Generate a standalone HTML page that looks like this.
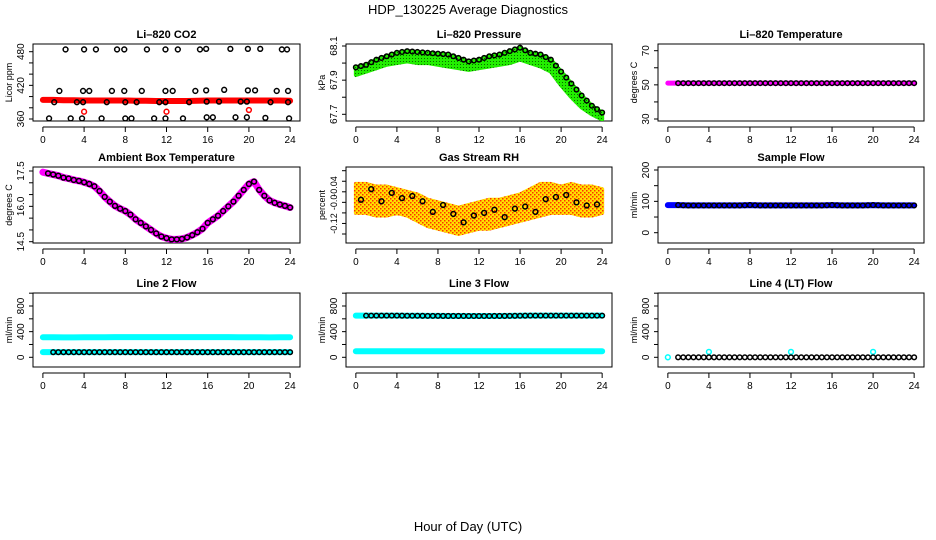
<!DOCTYPE html>
<html><head><meta charset="utf-8"><style>
html,body{margin:0;padding:0;background:#fff}
svg{display:block;font-family:"Liberation Sans",Arial,sans-serif}
</style></head><body>
<svg id="chart" width="936" height="540" viewBox="0 0 936 540" xmlns="http://www.w3.org/2000/svg">
<defs>
<pattern id="rhpat" width="4" height="4" patternUnits="userSpaceOnUse"><rect width="4" height="4" fill="#ffe000"/><rect x="0" y="0" width="1.5" height="1.5" fill="#ff3000"/><rect x="2" y="2" width="1.5" height="1.5" fill="#ff3000"/></pattern>
<pattern id="grpat" width="3" height="3" patternUnits="userSpaceOnUse"><rect width="3" height="3" fill="#22ee00"/><rect x="1" y="1" width="1" height="1" fill="#0a6a00"/></pattern>
</defs>
<text x="468" y="14" font-size="13" text-anchor="middle">HDP_130225  Average Diagnostics</text>
<text x="468" y="531" font-size="13" text-anchor="middle">Hour of Day (UTC)</text>
</svg>
<script>
// ---------- data ----------
const xTicks = [0,4,8,12,16,20,24];
const hours = [0,1,2,3,4,5,6,7,8,9,10,11,12,13,14,15,16,17,18,19,20,21,22,23,24];
const halfHours = [0,0.5,1,1.5,2,2.5,3,3.5,4,4.5,5,5.5,6,6.5,7,7.5,8,8.5,9,9.5,10,10.5,11,11.5,12,12.5,13,13.5,14,14.5,15,15.5,16,16.5,17,17.5,18,18.5,19,19.5,20,20.5,21,21.5,22,22.5,23,23.5,24];

const co2Band = [394,394,393.5,393.5,393,393,393,393,393,392.5,392.5,392,392,392,392,392.5,393,393,393,393,393,393,393,393,392.5];
const co2TopHours = [2.2,4.0,5.15,7.2,7.9,10.1,11.9,13.1,15.25,15.85,18.2,19.9,21.1,23.2,23.7];
const co2TopVals = [484,484,484,484,484,484,484,484,484,485,485,485,485,484,484];
const co2MidHours = [1.6,3.9,4.5,6.7,7.9,9.6,11.9,12.6,14.8,15.85,17.6,19.9,20.6,22.7,23.8];
const co2MidVals = [410,410,410,410,410,410,410,410,410,411,412,411,411,410,410];
const co2LowHours = [1.1,3.3,3.9,6.2,8.0,9.1,11.3,11.9,14.2,15.9,17.1,19.2,19.8,22.1,23.8];
const co2LowVals = [390,390,390,390,390,390,390,390,390,391,391,391,391,390,390];
const co2BotHours = [0.6,2.7,3.8,5.7,8.0,8.6,10.8,11.9,13.6,15.9,16.5,18.7,19.8,21.6,23.9];
const co2BotVals = [361,361,361,361,361,361,361,361,361,363,363,363,363,362,361];
const co2RedHours = [4,12,20];
const co2RedVals = [373,373,376];

const presUpper = [67.975,67.99,68.02,68.04,68.06,68.07,68.065,68.06,68.055,68.05,68.03,68.01,68.02,68.04,68.05,68.07,68.09,68.06,68.05,68.02,67.95,67.88,67.81,67.75,67.71];
const presLower = [67.93,67.95,67.97,67.99,68.0,68.01,68.0,68.0,67.99,67.98,67.97,67.96,67.97,67.98,67.99,68.0,68.02,68.0,67.98,67.95,67.87,67.8,67.74,67.7,67.67];

const tempVals = [51,51,51,51,51,51,51,51,51,51,51,51,51,51,51,51,51,51,51,51,51,51,51,51,51];

const ambVals = [17.45,17.4,17.35,17.3,17.22,17.18,17.12,17.08,17.02,16.95,16.85,16.65,16.4,16.2,16.02,15.9,15.8,15.65,15.45,15.3,15.15,15.0,14.85,14.72,14.65,14.6,14.6,14.62,14.68,14.78,14.9,15.05,15.3,15.45,15.6,15.8,16.0,16.2,16.45,16.7,16.95,17.05,16.7,16.45,16.25,16.15,16.08,16.02,15.95];

const rhCircles = [-0.075,-0.055,-0.078,-0.062,-0.072,-0.068,-0.078,-0.098,-0.085,-0.102,-0.118,-0.105,-0.1,-0.094,-0.108,-0.092,-0.088,-0.098,-0.074,-0.07,-0.066,-0.08,-0.086,-0.084,-0.075];
const rhUpper = [-0.045,-0.045,-0.05,-0.05,-0.055,-0.06,-0.065,-0.075,-0.08,-0.085,-0.09,-0.085,-0.08,-0.075,-0.075,-0.07,-0.065,-0.055,-0.045,-0.045,-0.05,-0.045,-0.05,-0.05,-0.055];
const rhLower = [-0.1,-0.1,-0.105,-0.105,-0.1,-0.105,-0.115,-0.125,-0.13,-0.135,-0.14,-0.135,-0.13,-0.13,-0.125,-0.12,-0.115,-0.11,-0.105,-0.1,-0.1,-0.1,-0.105,-0.105,-0.1];

const sampleFlow = [88,88,87,87,87,87,87,87,88,87,87,87,87,87,87,87,88,87,87,87,88,87,87,87,87];
const line2Cyan = [312,312,310,310,312,312,312,314,314,314,314,314,314,314,314,314,314,314,314,312,312,312,310,312,312];
const line2Black = [80,80,80,80,80,80,80,80,80,80,80,80,80,80,80,80,80,80,80,80,80,80,80,80,80];
const line3Black = [650,650,650,650,650,648,648,646,646,645,645,644,644,644,645,646,648,650,650,650,650,650,650,650,650];
const line3Cyan = [95,95,95,95,95,95,95,95,95,95,95,95,95,95,95,95,95,95,95,95,95,95,95,95,95];
const line4Vals = [0,0,0,0,0,0,0,0,0,0,0,0,0,0,0,0,0,0,0,0,0,0,0,0,0];
const line4SpikeHours = [4,12,20];
const line4SpikeVals = [85,85,85];

// ---------- helpers ----------
const svg = document.getElementById('chart');
const NS = 'http://www.w3.org/2000/svg';
function mk(tag, attrs, parent){
  const e = document.createElementNS(NS, tag);
  for (const k in attrs) e.setAttribute(k, attrs[k]);
  (parent||svg).appendChild(e);
  return e;
}
const cols = [{l:33,r:300},{l:346,r:612},{l:658,r:924}];
const rows = [{t:44,b:121},{t:167,b:243},{t:293,b:367}];

function panel(name, ci, ri, title, ylab, yPix1, yVal1, yPix2, yVal2, yTicks, yLabels, labelOffset, labelSize){
  const c = cols[ci], r = rows[ri];
  const g = mk('g', {});
  
  
  const w = c.r - c.l;
  const sx = h => c.l + (h + 0.96) / 25.92 * w;
  const sy = v => yPix1 + (v - yVal1) / (yVal2 - yVal1) * (yPix2 - yPix1);
  const t = mk('text', {x:(c.l+c.r)/2, y:r.t-6, 'font-size':11, 'font-weight':'bold', 'text-anchor':'middle'}, g);
  
  
  t.textContent = title;
  const box = mk('rect', {x:c.l, y:r.t, width:w, height:r.b-r.t, fill:'none', stroke:'#000', 'stroke-width':1}, g);
  
  
  const xa = mk('g', {}, g);
  
  
  const ay = r.b + 6;
  mk('line', {x1:sx(xTicks[0]), x2:sx(xTicks[xTicks.length-1]), y1:ay, y2:ay, stroke:'#000'}, xa);
  xTicks.forEach(v => {
    mk('line', {x1:sx(v), x2:sx(v), y1:ay, y2:ay+5, stroke:'#000'}, xa);
    const tl = mk('text', {x:sx(v), y:ay+16, 'font-size':10, 'text-anchor':'middle'}, xa);
    tl.textContent = v;
  });
  const ya = mk('g', {}, g);
  
  
  const ys = yTicks.map(sy);
  mk('line', {x1:c.l, x2:c.l, y1:Math.min(...ys, r.t), y2:Math.max(...ys, r.b), stroke:'#000'}, ya);
  yTicks.forEach(v => mk('line', {x1:c.l-4, x2:c.l, y1:sy(v), y2:sy(v), stroke:'#000'}, ya));
  yLabels.forEach(([v, txt]) => {
    const yy = sy(v) + (labelOffset||0);
    const tl = mk('text', {x:c.l-9, y:yy, 'font-size':labelSize||10, 'text-anchor':'middle', transform:`rotate(-90 ${c.l-9} ${yy})`}, ya);
    tl.textContent = txt;
  });
  const yt = mk('text', {x:c.l-21, y:(r.t+r.b)/2, 'font-size':9, 'text-anchor':'middle', transform:`rotate(-90 ${c.l-21} ${(r.t+r.b)/2})`}, g);
  
  
  yt.textContent = ylab;
  const clipId = 'clip-' + name;
  const cp = mk('clipPath', {id:clipId}, g);
  mk('rect', {x:c.l, y:r.t, width:w, height:r.b-r.t}, cp);
  const data = mk('g', {'clip-path':`url(#${clipId})`}, g);
  
  
  return {sx, sy, g:data};
}
function band(p, xs, vals, color, width, name){
  const pts = xs.map((h,i) => p.sx(h) + ',' + p.sy(vals[i])).join(' ');
  const e = mk('polyline', {points:pts, fill:'none', stroke:color, 'stroke-width':width, 'stroke-linejoin':'round', 'stroke-linecap':'round'}, p.g);
  
  
}
function area(p, xs, up, lo, fill, name){
  const a = xs.map((h,i) => p.sx(h) + ',' + p.sy(up[i]));
  const b = xs.map((h,i) => p.sx(h) + ',' + p.sy(lo[i])).reverse();
  const e = mk('polygon', {points:a.concat(b).join(' '), fill:fill, stroke:fill, 'stroke-width':4, 'stroke-linejoin':'round'}, p.g);
  
  
}
function circles(p, xs, vals, color, name, r){
  xs.forEach((h,i) => {
    const e = mk('circle', {cx:p.sx(h), cy:p.sy(vals[i]), r:r||2.4, fill:'none', stroke:color, 'stroke-width':1.5}, p.g);
    
    
  });
}
function denseCircles(p, xs, vals, color, name){
  circles(p, xs, vals, color, name, 2.3);
  for (let i=0;i<xs.length-1;i++){
    const e = mk('circle', {cx:(p.sx(xs[i])+p.sx(xs[i+1]))/2, cy:(p.sy(vals[i])+p.sy(vals[i+1]))/2, r:2.3, fill:'none', stroke:color, 'stroke-width':1.5}, p.g);
    
    
  }
}
const range = (a,b,s) => { const o=[]; for (let v=a; v<=b+1e-9; v+=s) o.push(+v.toFixed(4)); return o; };

// ---------- panels ----------
let p = panel('co2', 0, 0, 'Li–820 CO2', 'Licor ppm', 51.7, 480, 119, 360, range(360,480,20), [[360,'360'],[420,'420'],[480,'480']]);
band(p, hours, co2Band, '#ff0000', 6, 'co2-red-band');
circles(p, co2TopHours, co2TopVals, '#000', 'co2-point');
circles(p, co2MidHours, co2MidVals, '#000', 'co2-point');
circles(p, co2LowHours, co2LowVals, '#000', 'co2-point');
circles(p, co2BotHours, co2BotVals, '#000', 'co2-point');
circles(p, co2RedHours, co2RedVals, '#ff0000', 'co2-red-point');

p = panel('pressure', 1, 0, 'Li–820 Pressure', 'kPa', 46, 68.1, 114.3, 67.7, range(67.7,68.1,0.1), [[67.7,'67.7'],[67.9,'67.9'],[68.1,'68.1']]);
area(p, hours, presUpper, presLower, 'url(#grpat)', 'pressure-band');
denseCircles(p, hours, presUpper, '#000', 'pressure-point');

p = panel('li820-temp', 2, 0, 'Li–820 Temperature', 'degrees C', 50.7, 70, 119, 30, range(30,70,10), [[30,'30'],[50,'50'],[70,'70']]);
band(p, hours, tempVals, '#ff00ff', 5, 'temp-band');
denseCircles(p, hours.slice(1), tempVals.slice(1), '#000', 'temp-point');

p = panel('ambient', 0, 1, 'Ambient Box Temperature', 'degrees C', 171, 17.5, 241.7, 14.5, range(14.5,17.5,0.5), [[14.5,'14.5'],[16.0,'16.0'],[17.5,'17.5']]);
band(p, halfHours, ambVals, '#ff00ff', 7, 'ambient-band');
circles(p, halfHours.slice(1), ambVals.slice(1), '#000', 'ambient-point');

p = panel('rh', 1, 1, 'Gas Stream RH', 'percent', 170.7, -0.02, 234, -0.14, range(-0.14,-0.02,0.02), [[-0.05,'-0.04'],[-0.08,'-0.0'],[-0.12,'-0.12']], 0, 9);
area(p, hours, rhUpper, rhLower, 'url(#rhpat)', 'rh-band');
circles(p, hours.map(h=>h+0.5).slice(0,24), rhCircles.slice(0,24), '#000', 'rh-point');

p = panel('sample-flow', 2, 1, 'Sample Flow', 'ml/min', 170, 200, 232.7, 0, range(0,200,50), [[0,'0'],[100,'100'],[200,'200']]);
band(p, hours, sampleFlow, '#0000ff', 6, 'sample-flow-band');
denseCircles(p, hours.slice(1), sampleFlow.slice(1), '#000', 'sample-flow-point');

const flowTicks = range(0,1000,200);
const flowLabels = [[0,'0'],[400,'400'],[800,'800']];
p = panel('line2', 0, 2, 'Line 2 Flow', 'ml/min', 357.3, 0, 306, 800, flowTicks, flowLabels);
band(p, hours, line2Cyan, '#00ffff', 6, 'line2-cyan-band');
band(p, hours, line2Black, '#00ffff', 6, 'line2-cyan-low');
denseCircles(p, hours.slice(1), line2Black.slice(1), '#000', 'line2-point');

p = panel('line3', 1, 2, 'Line 3 Flow', 'ml/min', 357.3, 0, 306, 800, flowTicks, flowLabels);
band(p, hours, line3Black, '#00ffff', 6, 'line3-cyan-high');
band(p, hours, line3Cyan, '#00ffff', 6, 'line3-cyan-band');
denseCircles(p, hours.slice(1), line3Black.slice(1), '#000', 'line3-point');

p = panel('line4', 2, 2, 'Line 4 (LT) Flow', 'ml/min', 357.3, 0, 306, 800, flowTicks, flowLabels);
circles(p, [0], [0], '#00ffff', 'line4-cyan-point');
circles(p, line4SpikeHours, line4SpikeVals, '#00ffff', 'line4-cyan-spike');
denseCircles(p, hours.slice(1), line4Vals.slice(1), '#000', 'line4-point');
</script>
</body></html>
